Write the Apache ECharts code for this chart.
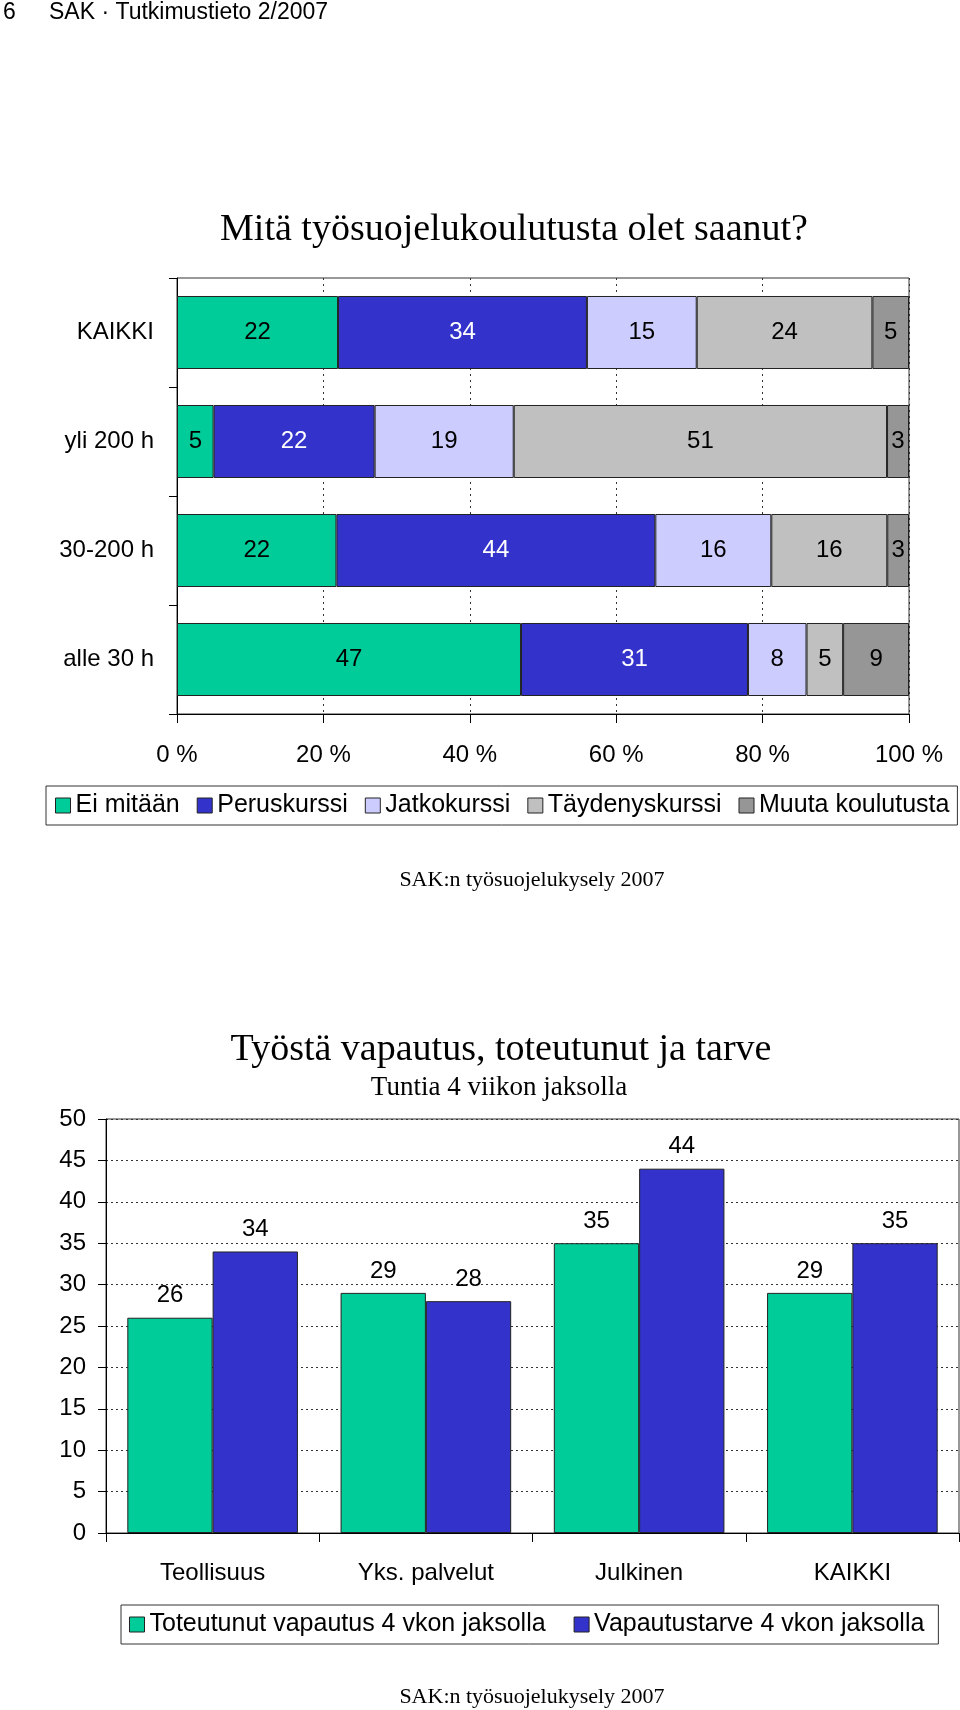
<!DOCTYPE html>
<html>
<head>
<meta charset="utf-8">
<script src="https://cdn.jsdelivr.net/npm/echarts@6/dist/echarts.min.js"></script>
<style>
html,body{margin:0;padding:0;background:#fff;}
#main{width:960px;height:1710px;}
</style>
</head>
<body>
<div id="main"></div>
<script>
// ---- Chart 1 data ----
const cats1 = ['KAIKKI', 'yli 200 h', '30-200 h', 'alle 30 h'];
const names1 = ['Ei mitään', 'Peruskurssi', 'Jatkokurssi', 'Täydenyskurssi', 'Muuta koulutusta'];
const eiMitaan = [22, 5, 22, 47];
const peruskurssi = [34, 22, 44, 31];
const jatkokurssi = [15, 19, 16, 8];
const taydenyskurssi = [24, 51, 16, 5];
const muuta = [5, 3, 3, 9];
const xTicks1 = [0, 20, 40, 60, 80, 100];

// ---- Chart 2 data ----
const cats2 = ['Teollisuus', 'Yks. palvelut', 'Julkinen', 'KAIKKI'];
const names2 = ['Toteutunut vapautus 4 vkon jaksolla', 'Vapautustarve 4 vkon jaksolla'];
const toteutunut = [26, 29, 35, 29];
const tarve = [34, 28, 44, 35];

const colors1 = ['#00CC99', '#3333CC', '#CCCCFF', '#C0C0C0', '#969696'];
const colors2 = ['#00CC99', '#3333CC'];
const SANS = "'Liberation Sans', Arial, sans-serif";
const SERIF = "'Liberation Serif', 'Times New Roman', serif";

const rows1 = [eiMitaan, peruskurssi, jatkokurssi, taydenyskurssi, muuta];
const sums = cats1.map((c, i) => rows1.reduce((s, r) => s + r[i], 0));

const series1 = rows1.map((arr, k) => ({
  name: names1[k],
  type: 'bar',
  xAxisIndex: 0, yAxisIndex: 0,
  stack: 'total',
  barCategoryGap: '33%',
  itemStyle: { color: colors1[k], borderColor: '#222', borderWidth: 1 },
  label: {
    show: true, position: 'inside', fontSize: 24, fontFamily: SANS,
    color: k === 1 ? '#fff' : '#000',
    formatter: p => arr[p.dataIndex]
  },
  data: arr.map((v, i) => v / sums[i] * 100)
}));

const series2 = [toteutunut, tarve].map((arr, k) => ({
  name: names2[k],
  type: 'bar',
  xAxisIndex: 1, yAxisIndex: 1,
  barGap: '0%',
  barCategoryGap: '20%',
  itemStyle: { color: colors2[k], borderColor: '#222', borderWidth: 1 },
  label: { show: true, position: 'top', distance: 10, fontSize: 24, fontFamily: SANS, color: '#000' },
  data: arr
}));

function txt(text, x, y, size, family, align) {
  return {
    type: 'text', silent: true,
    style: {
      text: text, x: x, y: y, fontSize: size, fontFamily: family, fill: '#000',
      align: align, verticalAlign: 'middle', textAlign: align, textVerticalAlign: 'middle'
    }
  };
}

const chart = echarts.init(document.getElementById('main'), null, { renderer: 'canvas' });
chart.setOption({
  animation: false,
  backgroundColor: '#fff',
  textStyle: { fontFamily: SANS },
  graphic: [
    txt('6', 3, 13, 23, SANS, 'left'),
    txt('SAK · Tutkimustieto 2/2007', 49, 13, 23, SANS, 'left'),
    txt('Mitä työsuojelukoulutusta olet saanut?', 514, 230, 38, SERIF, 'center'),
    txt('SAK:n työsuojelukysely 2007', 532, 880, 22, SERIF, 'center'),
    txt('Työstä vapautus, toteutunut ja tarve', 501, 1050, 38, SERIF, 'center'),
    txt('Tuntia 4 viikon jaksolla', 499, 1088, 27, SERIF, 'center'),
    txt('SAK:n työsuojelukysely 2007', 532, 1697, 22, SERIF, 'center')
  ],
  grid: [
    { left: 177, top: 278, width: 732, height: 436, show: true, borderColor: '#333', borderWidth: 1, containLabel: false },
    { left: 106, top: 1119, width: 853, height: 414, show: true, borderColor: '#333', borderWidth: 1, containLabel: false }
  ],
  legend: [
    {
      data: names1, left: 46, top: 786, orient: 'horizontal',
      padding: [7, 8, 7, 9], itemGap: 17, itemWidth: 15, itemHeight: 15, icon: 'rect',
      borderColor: '#333', borderWidth: 1,
      itemStyle: { borderColor: '#222', borderWidth: 1 },
      textStyle: { fontSize: 25, color: '#000', fontFamily: SANS }
    },
    {
      data: names2, left: 121, top: 1605, orient: 'horizontal',
      padding: [7, 14, 7, 8], itemGap: 28, itemWidth: 15, itemHeight: 15, icon: 'rect',
      borderColor: '#333', borderWidth: 1,
      itemStyle: { borderColor: '#222', borderWidth: 1 },
      textStyle: { fontSize: 25, color: '#000', fontFamily: SANS }
    }
  ],
  xAxis: [
    {
      type: 'value', gridIndex: 0, min: xTicks1[0], max: xTicks1[xTicks1.length - 1], interval: 20,
      axisLine: { show: true, lineStyle: { color: '#000', width: 1 } },
      axisTick: { show: true, length: 9, lineStyle: { color: '#000' } },
      axisLabel: { fontSize: 24, color: '#000', margin: 29, formatter: '{value} %', fontFamily: SANS },
      splitLine: { show: true, lineStyle: { color: '#333', type: [2, 4], width: 1 } }
    },
    {
      type: 'category', gridIndex: 1, data: cats2,
      axisLine: { show: true, lineStyle: { color: '#000', width: 1 } },
      axisTick: { show: true, length: 9, alignWithLabel: false, lineStyle: { color: '#000' } },
      axisLabel: { fontSize: 24, color: '#000', margin: 28, fontFamily: SANS },
      splitLine: { show: false }
    }
  ],
  yAxis: [
    {
      type: 'category', gridIndex: 0, data: cats1, inverse: true,
      axisLine: { show: true, lineStyle: { color: '#000', width: 1 } },
      axisTick: { show: true, length: 8, lineStyle: { color: '#000' } },
      axisLabel: { fontSize: 24, color: '#000', margin: 23, fontFamily: SANS },
      splitLine: { show: false }
    },
    {
      type: 'value', gridIndex: 1, min: 0, max: 50, interval: 5,
      axisLine: { show: true, lineStyle: { color: '#000', width: 1 } },
      axisTick: { show: true, length: 8, lineStyle: { color: '#000' } },
      axisLabel: { fontSize: 24, color: '#000', margin: 20, fontFamily: SANS },
      splitLine: { show: true, lineStyle: { color: '#333', type: [2, 3], width: 1 } }
    }
  ],
  series: series1.concat(series2)
});
</script>
</body>
</html>
